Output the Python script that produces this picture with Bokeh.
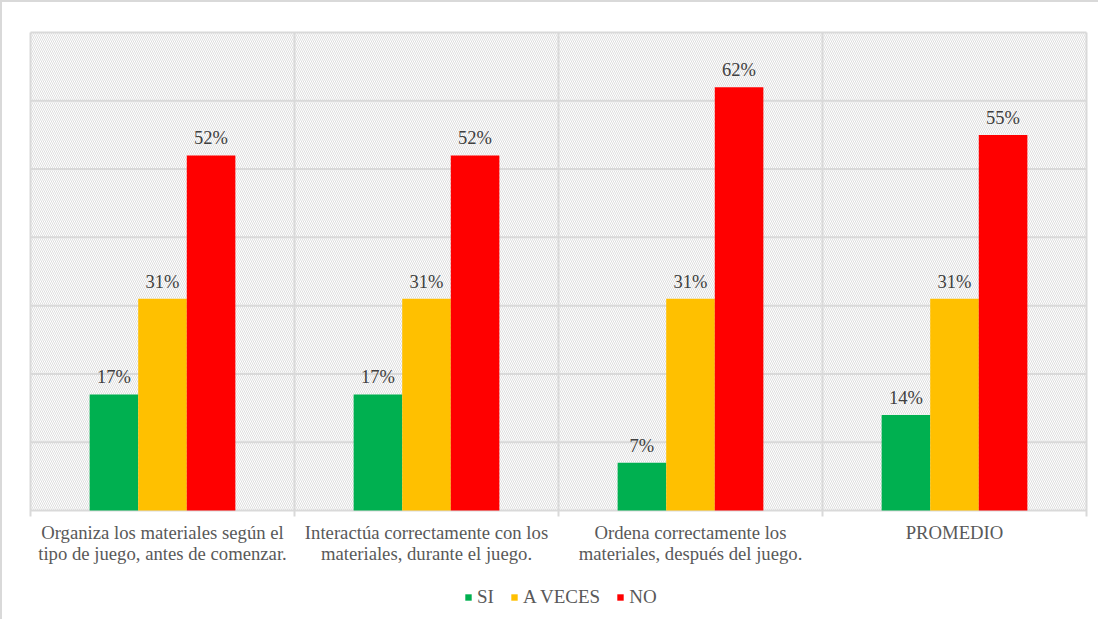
from bokeh.plotting import figure
from bokeh.models import Legend, LegendItem, Range1d
from bokeh.core.properties import value
from bokeh.embed import file_html
from bokeh.resources import INLINE

categories = [
    "Organiza los materiales según el\ntipo de juego, antes de comenzar.",
    "Interactúa correctamente con los\nmateriales, durante el juego.",
    "Ordena correctamente los\nmateriales, después del juego.",
    "PROMEDIO",
]
series = ["SI", "A VECES", "NO"]
si = [0.17, 0.17, 0.07, 0.14]
a_veces = [0.31, 0.31, 0.31, 0.31]
no = [0.52, 0.52, 0.62, 0.55]
y_ticks = [0.0, 0.1, 0.2, 0.3, 0.4, 0.5, 0.6, 0.7]

colors = ["#00B050", "#FFC000", "#FF0000"]
values = [si, a_veces, no]
GRID = "#d9d9d9"
FONT = "Liberation Serif"

# layout (pixels)
W, H = 1098, 619
PL, PR, PT, PB = 28, 14, 30, 111
n = len(categories)
ymax = y_ticks[-1]
ux = (W - PL - PR) / n
uy = (H - PT - PB) / ymax

p = figure(
    width=W, height=H,
    x_range=Range1d(-PL / ux, n + PR / ux),
    y_range=Range1d(-PB / uy, ymax + PT / uy),
    output_backend="svg", toolbar_location=None,
    x_axis_location=None, y_axis_location=None,
    min_border_left=0, min_border_right=0, min_border_top=0, min_border_bottom=0,
    background_fill_color="white", border_fill_color="white",
)
p.styles = {"border-top": "2px solid #d9d9d9", "border-left": "2px solid #d9d9d9"}
p.outline_line_color = None
for g in p.grid:
    g.visible = False

# hatched background of plot area
p.quad(left=[0], right=[n], bottom=[y_ticks[0]], top=[ymax],
       fill_color="white", line_color=None,
       hatch_pattern="\\", hatch_color="#dedede", hatch_scale=4, hatch_weight=1,
       level="image")

# horizontal gridlines
p.segment(x0=[0] * len(y_ticks), x1=[n] * len(y_ticks), y0=y_ticks, y1=y_ticks,
          line_color=GRID, line_width=2, level="underlay")
# vertical separators (extend below baseline as tick marks)
bounds = list(range(n + 1))
p.segment(x0=bounds, x1=bounds, y0=[-6 / uy] * len(bounds), y1=[ymax] * len(bounds),
          line_color=GRID, line_width=2, level="underlay")

bar_w = 0.184
offsets = [-bar_w, 0.0, bar_w]
renderers = []
for s, vals, col, off in zip(series, values, colors, offsets):
    xs = [i + 0.5 + off for i in range(n)]
    r = p.vbar(x=xs, top=vals, bottom=0, width=bar_w, fill_color=col, line_color=None)
    renderers.append(r)
    p.text(x=xs, y=vals, text=[f"{round(v * 100)}%" for v in vals],
           text_align="center", text_baseline="alphabetic", y_offset=-17,
           text_font=value(FONT), text_font_size="18.5px", text_color="#404040")

# category labels
p.text(x=[i + 0.5 for i in range(n)], y=[0] * n, text=categories,
       text_align="center", text_baseline="top", y_offset=11, text_line_height=1.0,
       text_font=value(FONT), text_font_size="18.7px", text_color="#595959")

legend = Legend(
    items=[LegendItem(label=s, renderers=[r]) for s, r in zip(series, renderers)],
    orientation="horizontal", location=(462, 13),
    glyph_width=8, glyph_height=8, label_standoff=5, spacing=16, label_width=10,
    border_line_color=None, background_fill_alpha=0, padding=0, margin=0,
    label_text_font=FONT, label_text_font_size="19px", label_text_color="#595959",
)
p.add_layout(legend, "center")

open("out.html", "w").write(file_html(p, INLINE))
